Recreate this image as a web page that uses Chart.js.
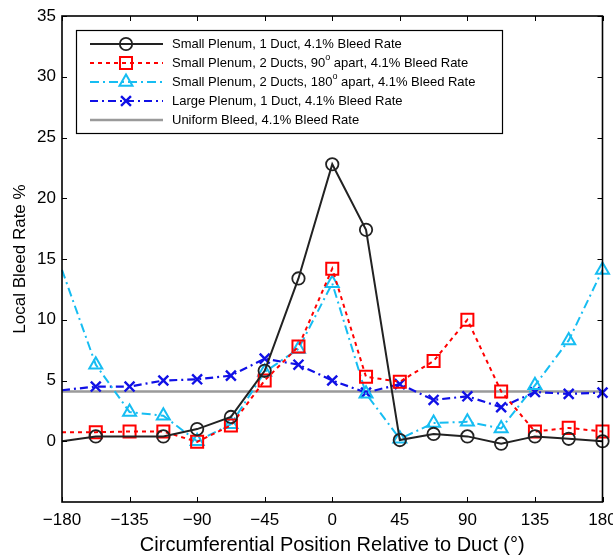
<!DOCTYPE html>
<html>
<head>
<meta charset="utf-8">
<script src="https://cdn.jsdelivr.net/npm/chart.js@4.4.1/dist/chart.umd.min.js"></script>
<style>
  html, body { margin: 0; padding: 0; background: #fff; }
  #wrap { width: 613px; height: 556px; }
</style>
</head>
<body>
<div id="wrap"><canvas id="bleedChart" width="613" height="556"></canvas></div>
<script>
// Posiciones circunferenciales (grados) y tasas de sangrado locales (%)
const positions = [-180, -157.5, -135, -112.5, -90, -67.5, -45, -22.5, 0, 22.5, 45, 67.5, 90, 112.5, 135, 157.5, 180];
const smallOneDuct = [0.0, 0.4, null, 0.4, 1.0, 2.0, 5.8, 13.4, 22.8, 17.4, 0.1, 0.6, 0.4, -0.2, 0.4, 0.2, 0.0];
const smallTwo90 = [0.75, 0.75, 0.8, 0.8, -0.05, 1.3, 5.0, 7.8, 14.2, 5.3, 4.9, 6.6, 10.0, 4.1, 0.8, 1.1, 0.8];
const smallTwo180 = [14.1, 6.3, 2.4, 2.1, 0.0, 1.4, 5.7, 7.6, 13.0, 3.9, 0.2, 1.5, 1.6, 1.05, 4.6, 8.3, 14.1];
const largeOneDuct = [4.2, 4.5, 4.5, 5.0, 5.1, 5.4, 6.8, 6.3, 5.0, 4.0, 4.7, 3.4, 3.7, 2.8, 4.05, 3.9, 4.0];
const uniformX = [-180, 180];
const uniformY = [4.1, 4.1];

const xTicks = [-180, -135, -90, -45, 0, 45, 90, 135, 180];
const yTicks = [0, 5, 10, 15, 20, 25, 30, 35];

const FONT = "'Liberation Sans', Arial, sans-serif";

function toPoints(xs, ys) {
    return xs.map((x, i) => ({ x, y: ys[i] }));
}

// sin marcador en -180 (solo la línea)
const markerSizes = (r) => positions.map((x, i) => (i === 0 ? 0 : r));

const series = [
    {
        label: "Small Plenum, 1 Duct, 4.1% Bleed Rate",
        data: toPoints(positions, smallOneDuct),
        borderColor: "#222222",
        borderWidth: 2,
        borderDash: [],
        pointStyle: "circle",
        pointRadius: markerSizes(6.2),
        pointBorderWidth: 1.8
    },
    {
        label: "Small Plenum, 2 Ducts, 90|o| apart, 4.1% Bleed Rate",
        data: toPoints(positions, smallTwo90),
        borderColor: "#ff0000",
        borderWidth: 2,
        borderDash: [4, 4],
        pointStyle: "rect",
        pointRadius: markerSizes(8.5),
        pointBorderWidth: 2
    },
    {
        label: "Small Plenum, 2 Ducts, 180|o| apart, 4.1% Bleed Rate",
        data: toPoints(positions, smallTwo180),
        borderColor: "#16bdf2",
        borderWidth: 2,
        borderDash: [9, 4, 2, 4],
        pointStyle: "triangle",
        pointRadius: markerSizes(7.5),
        pointBorderWidth: 2
    },
    {
        label: "Large Plenum, 1 Duct, 4.1% Bleed Rate",
        data: toPoints(positions, largeOneDuct),
        borderColor: "#1010e6",
        borderWidth: 2.2,
        borderDash: [8, 4, 2, 4],
        pointStyle: "crossRot",
        pointRadius: markerSizes(7),
        pointBorderWidth: 2.4
    },
    {
        label: "Uniform Bleed, 4.1% Bleed Rate",
        data: toPoints(uniformX, uniformY),
        borderColor: "#9a9a9a",
        borderWidth: 2.5,
        borderDash: [],
        pointStyle: "line",
        pointRadius: 0,
        pointBorderWidth: 0,
        order: 10
    }
];

// marco, marcas de graduación hacia dentro y leyenda propia
const framePlugin = {
    id: "frame",
    afterDraw(chart) {
        const ctx = chart.ctx;
        const { left, right, top, bottom } = chart.chartArea;
        const xs = chart.scales.x, ys = chart.scales.y;
        ctx.save();
        ctx.strokeStyle = "#000";
        ctx.lineWidth = 1.6;
        ctx.strokeRect(left, top, right - left, bottom - top);
        ctx.lineWidth = 1;
        ctx.beginPath();
        xTicks.forEach(v => {
            const px = Math.round(xs.getPixelForValue(v)) + 0.5;
            ctx.moveTo(px, bottom); ctx.lineTo(px, bottom - 5);
            ctx.moveTo(px, top); ctx.lineTo(px, top + 5);
        });
        yTicks.forEach(v => {
            const py = Math.round(ys.getPixelForValue(v)) + 0.5;
            ctx.moveTo(left, py); ctx.lineTo(left + 5, py);
            ctx.moveTo(right, py); ctx.lineTo(right - 5, py);
        });
        ctx.stroke();

        // leyenda
        const box = { x: 76, y: 30, w: 426, h: 103 };
        ctx.fillStyle = "#fff";
        ctx.fillRect(box.x, box.y, box.w, box.h);
        ctx.lineWidth = 1.2;
        ctx.strokeStyle = "#000";
        ctx.strokeRect(box.x + 0.5, box.y + 0.5, box.w, box.h);

        series.forEach((s, i) => {
            const cy = 44 + i * 19;
            ctx.save();
            ctx.strokeStyle = s.borderColor;
            ctx.lineWidth = s.borderWidth;
            ctx.setLineDash(s.borderDash);
            ctx.beginPath();
            ctx.moveTo(90, cy); ctx.lineTo(163, cy);
            ctx.stroke();
            ctx.setLineDash([]);
            if (s.pointStyle !== "line") {
                ctx.fillStyle = "rgba(0,0,0,0)";
                ctx.lineWidth = s.pointBorderWidth;
                Chart.helpers.drawPoint(ctx, {
                    pointStyle: s.pointStyle,
                    radius: s.pointRadius[1],
                    borderWidth: s.pointBorderWidth,
                    rotation: 0
                }, 126, cy);
            }
            ctx.restore();

            // texto con superíndice "o"
            ctx.fillStyle = "#000";
            ctx.textBaseline = "middle";
            let tx = 172;
            s.label.split("|").forEach((part, k) => {
                const sup = k % 2 === 1;
                ctx.font = (sup ? "9px " : "13px ") + FONT;
                ctx.fillText(part, tx, sup ? cy - 5 : cy);
                tx += ctx.measureText(part).width;
            });
        });
        ctx.restore();
    }
};

new Chart(document.getElementById("bleedChart"), {
    type: "line",
    data: {
        datasets: series.map(s => ({
            label: s.label,
            data: s.data,
            borderColor: s.borderColor,
            borderWidth: s.borderWidth,
            borderDash: s.borderDash,
            pointStyle: s.pointStyle,
            pointRadius: s.pointRadius,
            pointBorderWidth: s.pointBorderWidth,
            pointBorderColor: s.borderColor,
            pointBackgroundColor: "transparent",
            fill: false,
            tension: 0,
            spanGaps: true,
            clip: false,
            order: s.order || 0
        }))
    },
    options: {
        responsive: false,
        animation: false,
        layout: { padding: { left: 0, right: 10, top: 16, bottom: 0 } },
        plugins: { legend: { display: false }, tooltip: { enabled: false } },
        scales: {
            x: {
                type: "linear",
                min: -180,
                max: 180,
                afterBuildTicks: (scale) => { scale.ticks = xTicks.map(v => ({ value: v })); },
                afterFit: (scale) => {
                    scale.height = 54;
                    scale.paddingLeft = 0;
                    scale.paddingRight = 0;
                },
                grid: { display: false, drawTicks: false },
                border: { display: false },
                ticks: {
                    color: "#000",
                    font: { family: FONT, size: 17 },
                    padding: 8,
                    maxRotation: 0,
                    callback: (v) => String(v).replace("-", "\u2212")
                },
                title: {
                    display: true,
                    text: "Circumferential Position Relative to Duct (\u00b0)",
                    color: "#000",
                    font: { family: FONT, size: 20 },
                    padding: { top: 0, bottom: -1 }
                }
            },
            y: {
                min: -5,
                max: 35,
                afterBuildTicks: (scale) => { scale.ticks = yTicks.map(v => ({ value: v })); },
                afterFit: (scale) => {
                    scale.width = 62;
                    scale.paddingTop = 0;
                    scale.paddingBottom = 0;
                },
                grid: { display: false, drawTicks: false },
                border: { display: false },
                ticks: {
                    color: "#000",
                    font: { family: FONT, size: 17 },
                    padding: 6
                },
                title: {
                    display: true,
                    text: "Local Bleed Rate %",
                    color: "#000",
                    font: { family: FONT, size: 17 },
                    padding: { top: 10, bottom: 0 }
                }
            }
        }
    },
    plugins: [framePlugin]
});
</script>
</body>
</html>
